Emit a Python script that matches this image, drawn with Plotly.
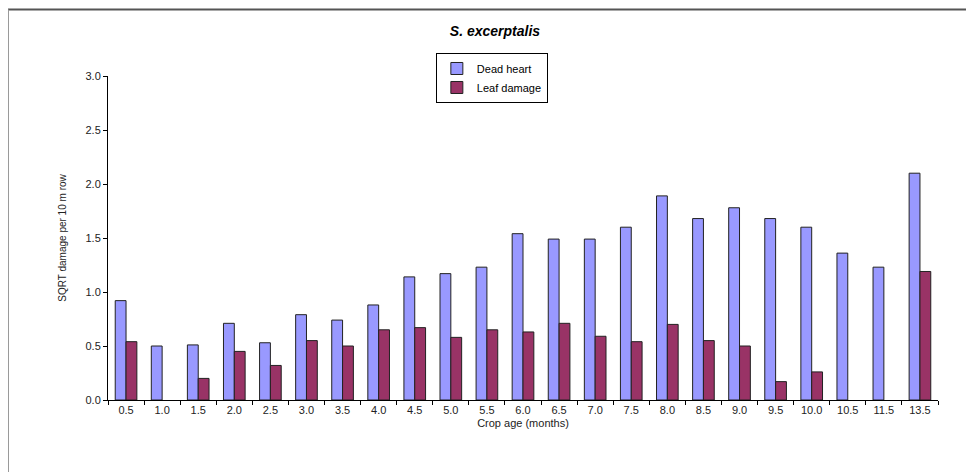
import plotly.graph_objects as go

ages = ["0.5", "1.0", "1.5", "2.0", "2.5", "3.0", "3.5", "4.0", "4.5", "5.0", "5.5",
        "6.0", "6.5", "7.0", "7.5", "8.0", "8.5", "9.0", "9.5", "10.0", "10.5", "11.5", "13.5"]
dead_heart = [0.92, 0.50, 0.51, 0.71, 0.53, 0.79, 0.74, 0.88, 1.14, 1.17, 1.23,
              1.54, 1.49, 1.49, 1.60, 1.89, 1.68, 1.78, 1.68, 1.60, 1.36, 1.23, 2.10]
leaf_damage = [0.54, None, 0.20, 0.45, 0.32, 0.55, 0.50, 0.65, 0.67, 0.58, 0.65,
               0.63, 0.71, 0.59, 0.54, 0.70, 0.55, 0.50, 0.17, 0.26, None, None, 1.19]
y_ticks = [0.0, 0.5, 1.0, 1.5, 2.0, 2.5, 3.0]
y_tick_labels = ["0.0", "0.5", "1.0", "1.5", "2.0", "2.5", "3.0"]

font = "Liberation Sans, Arial, sans-serif"

fig = go.Figure()
fig.add_trace(go.Bar(x=ages, y=dead_heart, name="Dead heart",
                     marker=dict(color="#9999FF", line=dict(color="#222222", width=1))))
fig.add_trace(go.Bar(x=ages, y=leaf_damage, name="Leaf damage",
                     marker=dict(color="#993366", line=dict(color="#222222", width=1))))

fig.update_layout(
    width=974, height=472,
    margin=dict(l=100, r=44, t=68, b=80, autoexpand=False),
    paper_bgcolor="white", plot_bgcolor="white",
    barmode="group", bargap=0.4, bargroupgap=0,
    font=dict(family=font, size=11, color="#222222"),
    title=dict(text="<b><i>S. excerptalis</i></b>", x=0.5, xanchor="center",
               y=0.951, yanchor="middle", font=dict(size=14, color="black")),
    legend=dict(x=0.395, y=1.071, xanchor="left", yanchor="top",
                bordercolor="black", borderwidth=1, bgcolor="white",
                font=dict(size=11, color="black"), itemwidth=30,
                tracegroupgap=0),
    xaxis=dict(title=dict(text="Crop age (months)", font=dict(size=11), standoff=4),
               showline=True, linecolor="black", linewidth=1,
               ticks="outside", ticklen=4, tickcolor="black", tickson="boundaries",
               showgrid=False, tickfont=dict(size=11)),
    yaxis=dict(title=dict(text="SQRT damage per 10 m row", font=dict(size=10), standoff=17),
               range=[0, 3.0], tickvals=y_ticks, ticktext=y_tick_labels,
               showline=True, linecolor="black", linewidth=1,
               ticks="outside", ticklen=4, tickcolor="black",
               showgrid=False, zeroline=False, tickfont=dict(size=11)),
    shapes=[
        dict(type="line", xref="paper", yref="paper", x0=-0.1205, x1=1.1, y0=1.205, y1=1.205,
             line=dict(color="#555555", width=2)),
        dict(type="line", xref="paper", yref="paper", x0=-0.1205, x1=-0.1205, y0=1.205, y1=-0.3,
             line=dict(color="#999999", width=2)),
    ],
)

fig.write_html("out.html")
